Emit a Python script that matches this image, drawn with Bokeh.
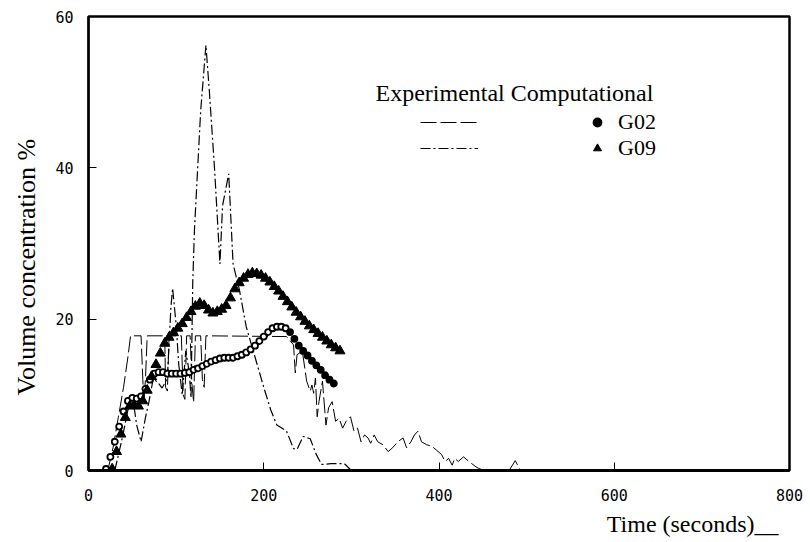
from bokeh.plotting import figure
from bokeh.models import Range1d, FixedTicker, Legend, LegendItem, Label, ColumnDataSource, Title
from bokeh.embed import file_html
from bokeh.resources import INLINE

# ---------------- data ----------------
x_ticks = [0, 200, 400, 600, 800]
y_ticks = [0, 20, 40, 60]

g02_exp_t = [22, 28, 34, 40, 45, 48, 60, 62, 63, 65, 67, 87, 88, 90, 92, 106, 108, 110, 112, 116,
             118, 120, 122, 128, 130, 132, 134, 226, 234, 236, 238, 244, 249, 253, 255, 257, 259, 261, 263, 267,
             271, 274, 278, 282, 286, 290, 294, 299, 303, 307, 311, 315, 319, 322, 326, 330, 336, 342, 347, 353,
             359, 363, 368, 372, 376, 380, 386, 392, 397, 403, 407, 411, 415, 418, 422, 428, 434, 442, 445, 449,
             480, 487, 493, 520]
g02_exp_v = [0, 3, 7, 11, 15, 17.8, 17.8, 12, 9, 12, 17.8, 17.8, 11, 10.5, 17.8, 17.8, 10, 9.4, 17.8, 17.8,
             11.5, 9, 17.8, 17.8, 12, 11, 17.8, 17.7, 16.6, 12.9, 15.3, 15.8, 11.8, 10.5, 11.3, 10.2, 12.2, 7.1, 9.1, 11.8,
             6.0, 8.3, 9.1, 6.5, 6.9, 5.6, 6.5, 7.1, 5.2, 5.6, 3.8, 4.7, 4.3, 3.6, 4.7, 3.8, 3.4, 2.5, 3.0, 3.8,
             4.3, 3.0, 3.8, 4.7, 5.2, 3.8, 3.4, 3.2, 2.7, 2.1, 1.2, 1.6, 0.7, 1.6, 1.2, 1.8, 1.2, 0.5, 0.3, 0.1,
             0, 1.3, 0, 0]

g09_exp_t = [30, 38, 45, 50, 55, 60, 65, 69, 74, 80, 84, 90, 94, 96, 100, 103, 107, 111, 115, 117,
             119, 121, 128, 134, 138, 144, 150, 153, 160, 165, 172, 180, 190, 200, 208, 215, 226, 234, 238, 245,
             253, 260, 266, 277, 292, 300]
g09_exp_v = [0, 4, 8, 10, 6, 3.8, 7, 9.1, 12.2, 11.5, 10.9, 12.2, 21.5, 24.1, 19.3, 14, 10, 15.8, 13, 9.6,
             25, 32, 47.5, 56.2, 50, 39.6, 27.3, 35, 39.2, 27.3, 24, 19, 15, 11, 8, 6, 5.2, 2.9, 2.8, 4.5,
             4.2, 2.1, 0.8, 0.9, 0.9, 0]

g02_comp_t = [20, 25, 30, 35, 40, 45, 50, 55, 60, 65, 70, 75, 80, 85, 90, 95, 100, 105, 110, 115,
              120, 125, 130, 135, 140, 145, 150, 155, 160, 165, 170, 175, 180, 185, 190, 195, 200, 205, 210, 215,
              220, 225, 230, 235, 240, 245, 250, 255, 260, 265, 270, 275, 280]
g02_comp_v = [0.2, 1.8, 3.8, 5.8, 7.8, 9.2, 9.6, 9.5, 9.8, 10.8, 12.0, 12.8, 13.0, 13.0, 12.8, 12.8, 12.8, 12.8, 12.9, 13.0,
              13.3, 13.5, 13.8, 14.1, 14.4, 14.6, 14.8, 14.9, 14.9, 14.9, 15.1, 15.3, 15.6, 16.0, 16.5, 17.1, 17.7, 18.3, 18.8, 19.0,
              19.0, 18.8, 18.3, 17.4, 16.5, 15.8, 15.2, 14.5, 13.9, 13.3, 12.6, 12.0, 11.5]

g09_comp_t = [27, 32, 37, 42, 47, 52, 57, 62, 67, 72, 77, 82, 87, 92, 97, 102, 107, 112, 117, 122,
              127, 132, 137, 142, 147, 152, 157, 162, 167, 172, 177, 182, 187, 192, 197, 202, 207, 212, 217, 222,
              227, 232, 237, 242, 247, 252, 257, 262, 267, 272, 277, 282, 287]
g09_comp_v = [0.2, 2.5, 4.8, 7.0, 8.5, 8.6, 8.5, 9.2, 10.6, 12.4, 14.0, 15.5, 16.8, 17.6, 18.2, 18.8, 19.4, 20.2, 21.0, 21.7,
              22.1, 21.8, 21.2, 20.8, 21.0, 21.3, 21.8, 22.8, 24.0, 24.8, 25.4, 25.9, 26.1, 26.0, 25.8, 25.4, 24.9, 24.3, 23.7, 23.0,
              22.3, 21.6, 20.9, 20.3, 19.7, 19.1, 18.6, 18.1, 17.6, 17.1, 16.6, 16.2, 15.8]

# ---------------- figure ----------------
SERIF = "Liberation Serif"
MONO = "DejaVu Sans Mono"

p = figure(width=810, height=542, x_range=Range1d(0, 800), y_range=Range1d(0, 60),
           output_backend="svg", toolbar_location=None,
           min_border_left=88, min_border_right=21, min_border_top=16, min_border_bottom=72)
p.background_fill_color = "white"
p.border_fill_color = "white"
p.xgrid.visible = False
p.ygrid.visible = False
p.outline_line_color = "black"
p.outline_line_width = 2.5

for ax, ticks, lw in ((p.xaxis[0], x_ticks, 3), (p.yaxis[0], y_ticks, 2)):
    ax.ticker = FixedTicker(ticks=ticks)
    ax.minor_tick_line_color = None
    ax.major_tick_in = 8
    ax.major_tick_out = 0
    ax.major_tick_line_width = 1
    ax.major_tick_line_color = "black"
    ax.axis_line_width = lw
    ax.axis_line_color = "black"
    ax.major_label_text_font = MONO
    ax.major_label_text_font_size = "15px"
    ax.major_label_text_color = "black"
p.xaxis.major_label_standoff = 18
p.yaxis.major_label_standoff = 15

# experimental lines
r_g02e = p.line(g02_exp_t, g02_exp_v, line_color="black", line_width=1, line_dash="16 4")
r_g09e = p.line(g09_exp_t, g09_exp_v, line_color="black", line_width=1.2, line_dash="10 3 2 3")

# computational markers
circ_src = ColumnDataSource(dict(t=g02_comp_t, v=g02_comp_v,
                                 fc=["white" if t < 230 else "black" for t in g02_comp_t]))
r_g02c = p.scatter("t", "v", source=circ_src, marker="circle", size=6,
                   fill_color="fc", line_color="black", line_width=1.8)
r_g09c = p.scatter(g09_comp_t, g09_comp_v, marker="triangle", size=10,
                   fill_color="black", line_color="black", line_width=1)

# legend (experimental samples / computational samples)
leg_exp = Legend(items=[LegendItem(label=" ", renderers=[r_g02e]),
                        LegendItem(label=" ", renderers=[r_g09e])],
                 location=(332, 309), glyph_width=58, glyph_height=26, spacing=0,
                 padding=0, margin=0, label_width=0, label_height=26, label_standoff=0,
                 label_text_font_size="1px", border_line_color=None, background_fill_alpha=0)
leg_comp = Legend(items=[LegendItem(label="G02", renderers=[r_g02c], index=len(g02_comp_t) - 1),
                         LegendItem(label="G09", renderers=[r_g09c])],
                  location=(499, 309), glyph_width=20, glyph_height=26, spacing=0,
                  padding=0, margin=0, label_standoff=11, label_height=26,
                  label_text_font=SERIF, label_text_font_size="22px", label_text_color="black",
                  border_line_color=None, background_fill_alpha=0)
p.add_layout(leg_exp)
p.add_layout(leg_comp)

p.add_layout(Label(x=287, y=378, x_units="screen", y_units="screen",
                   text="Experimental Computational", text_font=SERIF, text_font_size="24px",
                   text_color="black", text_baseline="alphabetic"))

# axis titles
p.add_layout(Title(text="Time (seconds)__", align="right", offset=11,
                   text_font=SERIF, text_font_size="24px", text_font_style="normal",
                   text_color="black"), "below")
p.add_layout(Title(text="Volume concentration %", align="left", offset=75, standoff=20,
                   vertical_align="top",
                   text_font=SERIF, text_font_size="26px", text_font_style="normal",
                   text_color="black"), "left")

open("out.html", "w").write(file_html(p, INLINE))
